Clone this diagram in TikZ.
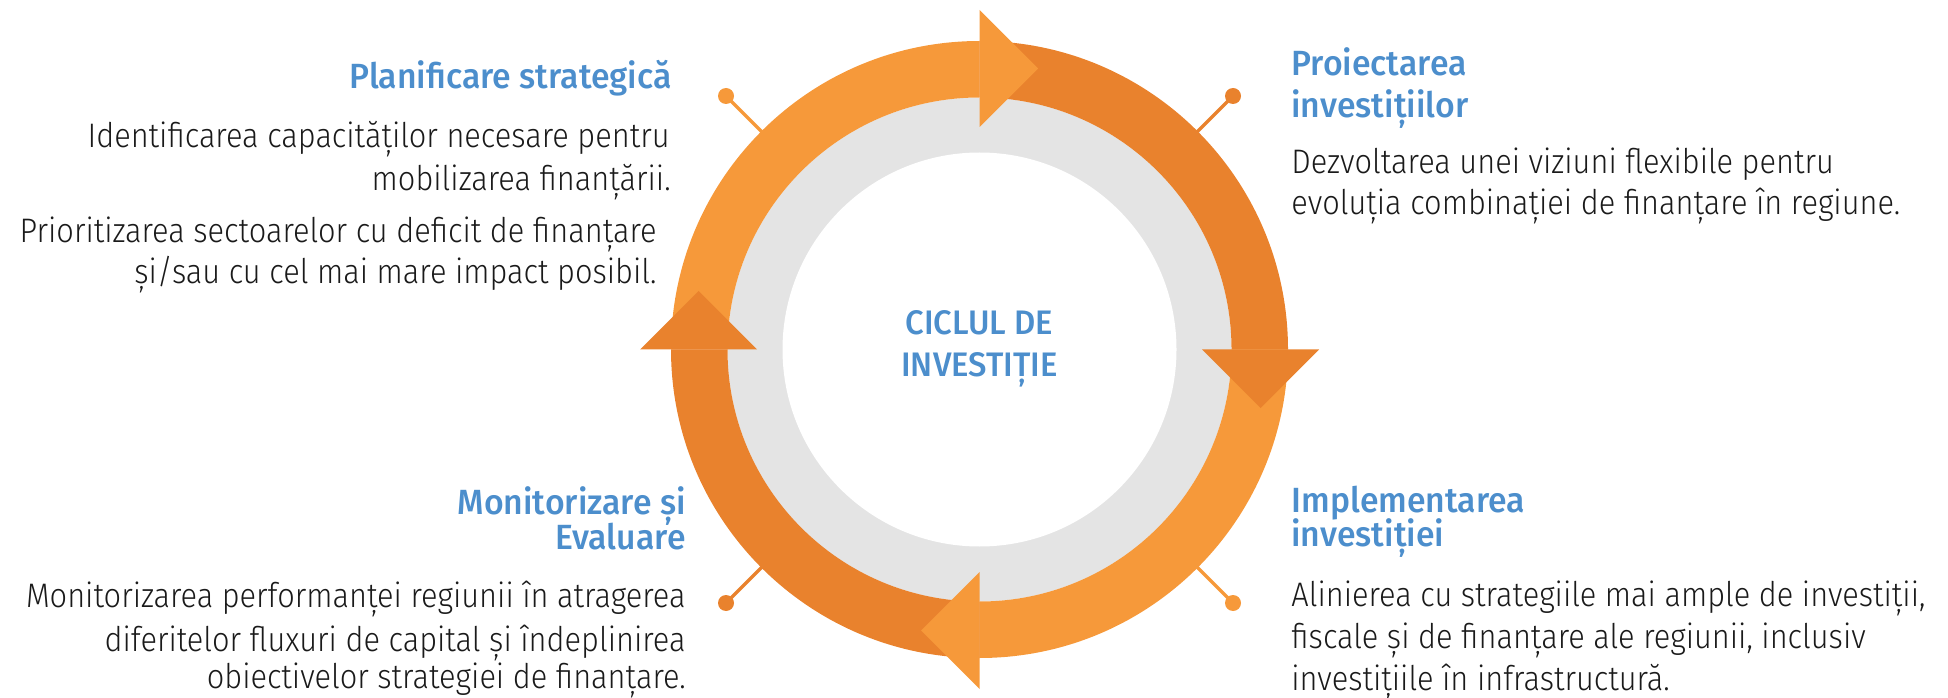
\documentclass[tikz,border=0pt]{standalone}
\usepackage{fontspec}
\usetikzlibrary{calc}
\newfontfamily\bodyf{Fira Sans Light}[FakeStretch=0.905]
\newfontfamily\headf{Fira Sans Medium}[FakeStretch=0.965]
\definecolor{orlight}{HTML}{F6993A}
\definecolor{ordark}{HTML}{E9822D}
\definecolor{ringgray}{HTML}{E4E4E4}
\definecolor{eublue}{HTML}{4C8ECC}
\definecolor{bodytext}{HTML}{1A1A1A}
\newcommand\ringarc[3]{\fill[#1] ($(C)+(#2:308.5)$) arc[start angle=#2,end angle=#3,radius=308.5] -- ($(C)+(#3:252)$) arc[start angle=#3,end angle=#2,radius=252] -- cycle;}
\newcommand\ringhead[3]{\fill[#1] ($(C)+(#2:222.5)$) -- ($(C)+(#2:339.5)$) -- ($(C)+(#2:281)+(#3:58.5)$) -- cycle;}
\begin{document}
\begin{tikzpicture}[x=0.5pt,y=0.5pt,
  body/.style={font=\bodyf\fontsize{17}{20}\selectfont, text=bodytext, inner sep=0},
  head/.style={font=\headf\fontsize{17.5}{20}\selectfont, text=eublue, inner sep=0},
  mid/.style={font=\headf\fontsize{17}{20}\selectfont, text=eublue, inner sep=0},
  dotL/.style={circle, fill=orlight, inner sep=0, minimum size=8pt},
  dotD/.style={circle, fill=ordark, inner sep=0, minimum size=8pt},
  linkL/.style={draw=orlight, line width=1.65pt},
  linkD/.style={draw=ordark, line width=1.65pt}]
\useasboundingbox (0,0) rectangle (1948,697);
\coordinate (C) at (979.5,347.5);
% gray ring and white centre
\fill[ringgray] (C) circle[radius=252];
\fill[white] (C) circle[radius=197];
% connectors with dots
\coordinate (r1) at ($(C)+(135:300)$);
\coordinate (r2) at ($(C)+(45:300)$);
\coordinate (r3) at ($(C)+(-45:300)$);
\coordinate (r4) at ($(C)+(225:300)$);
\node[dotL] (d1) at ($(C)+(135:358.5)$) {};
\node[dotD] (d2) at ($(C)+(45:358.5)$) {};
\node[dotL] (d3) at ($(C)+(-45:358.5)$) {};
\node[dotD] (d4) at ($(C)+(225:358.5)$) {};
\draw[linkL] (r1) -- (d1.center);
\draw[linkD] (r2) -- (d2.center);
\draw[linkL] (r3) -- (d3.center);
\draw[linkD] (r4) -- (d4.center);
% arc bands
\ringarc{orlight}{180}{90}
\ringarc{ordark}{90}{0}
\ringarc{orlight}{0}{-90}
\ringarc{ordark}{270}{180}
% arrow heads
\ringhead{orlight}{90}{0}
\ringhead{ordark}{0}{-90}
\ringhead{orlight}{270}{180}
\ringhead{ordark}{180}{90}
% centre label
\node[mid, anchor=base] (c1) at (979.5,363) {CICLUL DE};
\node[mid, anchor=base] (c2) at (979.5,321) {INVESTIȚIE};
% top left
\node[head, anchor=base east] (tlh) at (672,608) {Planificare strategică};
\node[body, anchor=base east] (tl1) at (670,549) {Identificarea capacităților necesare pentru};
\node[body, anchor=base east] (tl2) at (671,506) {mobilizarea finanțării.};
\node[body, anchor=base east] (tl3) at (657,454) {Prioritizarea sectoarelor cu deficit de finanțare};
\node[body, anchor=base east] (tl4) at (657,413) {și/sau cu cel mai mare impact posibil.};
% top right
\node[head, anchor=base west] (trh1) at (1291,621) {Proiectarea};
\node[head, anchor=base west] (trh2) at (1291,579) {investițiilor};
\node[body, anchor=base west] (tr1) at (1291,523) {Dezvoltarea unei viziuni flexibile pentru};
\node[body, anchor=base west] (tr2) at (1291,482) {evoluția combinației de finanțare în regiune.};
% bottom left
\node[head, anchor=base east] (blh1) at (686,183) {Monitorizare și};
\node[head, anchor=base east] (blh2) at (686,148) {Evaluare};
\node[body, anchor=base east] (bl1) at (686,90) {Monitorizarea performanței regiunii în atragerea};
\node[body, anchor=base east] (bl2) at (686,46) {diferitelor fluxuri de capital și îndeplinirea};
\node[body, anchor=base east] (bl3) at (686,9) {obiectivelor strategiei de finanțare.};
% bottom right
\node[head, anchor=base west] (brh1) at (1291,185) {Implementarea};
\node[head, anchor=base west] (brh2) at (1291,151) {investiției};
\node[body, anchor=base west] (br1) at (1291,91) {Alinierea cu strategiile mai ample de investiții,};
\node[body, anchor=base west] (br2) at (1291,49) {fiscale și de finanțare ale regiunii, inclusiv};
\node[body, anchor=base west] (br3) at (1291,7) {investițiile în infrastructură.};
\end{tikzpicture}
\end{document}
